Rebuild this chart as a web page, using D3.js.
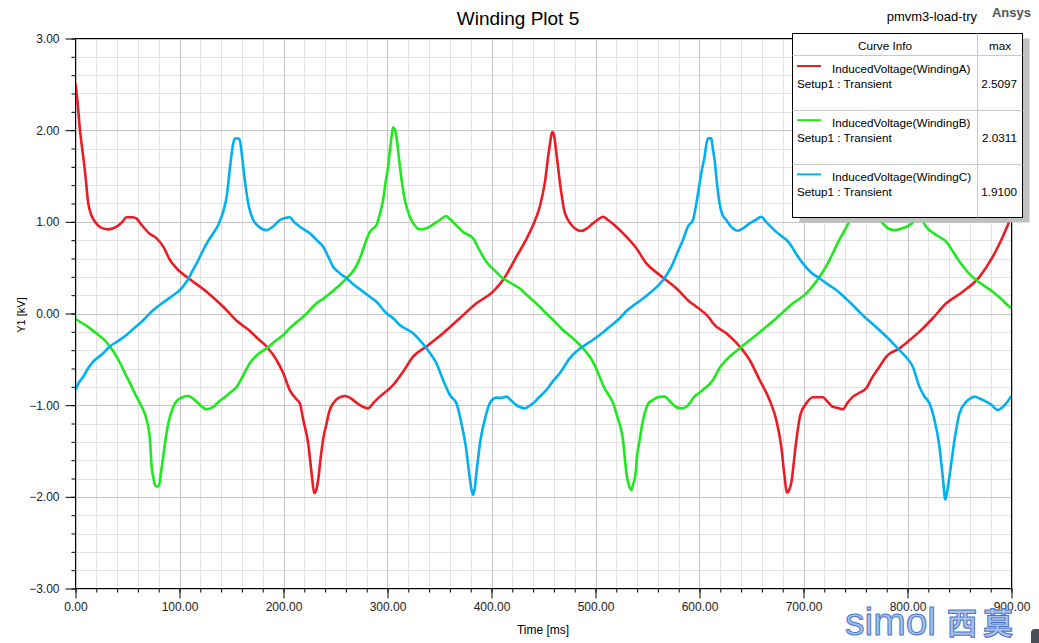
<!DOCTYPE html>
<html>
<head>
<meta charset="utf-8">
<script src="https://cdn.jsdelivr.net/npm/d3@7"></script>
<style>
  html, body { margin: 0; padding: 0; background: #fff; }
  svg { display: block; font-family: "Liberation Sans", Arial, sans-serif; }
</style>
</head>
<body>
<svg id="chart" width="1039" height="643"></svg>
<script>
// ---------------- data ----------------
const chartTitle = "Winding Plot 5";
const projectName = "pmvm3-load-try";
const xLabel = "Time [ms]";
const yLabel = "Y1 [kV]";
const xMajorTicks = [0, 100, 200, 300, 400, 500, 600, 700, 800, 900];
const yMajorTicks = [-3, -2, -1, 0, 1, 2, 3];
const seriesNames = ["InducedVoltage(WindingA)", "InducedVoltage(WindingB)", "InducedVoltage(WindingC)"];
const seriesSetup = ["Setup1 : Transient", "Setup1 : Transient", "Setup1 : Transient"];
const seriesMax = ["2.5097", "2.0311", "1.9100"];
const seriesColors = ["#ed1c24", "#1ee81e", "#00b0f0"];

// [time ms, voltage kV]
const windingA = [[0,2.51],[2,2.3],[4.3,2.0],[7,1.75],[9,1.565],[12.3,1.2],[15,1.08],[18.7,1.0],[24,0.94],[31.5,0.918],[39.6,0.947],[45,1.0],[49,1.05],[55,1.05],[58.8,1.035],[63.6,0.965],[71.6,0.867],[78,0.82],[84.4,0.73],[90.8,0.584],[97.2,0.493],[110,0.373],[126,0.238],[142,0.074],[155,-0.08],[167.7,-0.19],[175,-0.27],[183.7,-0.36],[193.3,-0.507],[199.7,-0.65],[206,-0.835],[212,-0.93],[215.7,-0.98],[219,-1.16],[223.7,-1.416],[227,-1.743],[229.5,-1.96],[231,-1.94],[233.3,-1.816],[236,-1.55],[238,-1.38],[241.4,-1.2],[244,-1.07],[247.7,-0.98],[253,-0.92],[259,-0.9],[267,-0.944],[273.4,-1.0],[281.4,-1.035],[286,-0.98],[292.6,-0.907],[305.4,-0.78],[315,-0.635],[324.6,-0.47],[337.5,-0.36],[353.4,-0.216],[369.5,-0.052],[385.5,0.111],[401.5,0.238],[411,0.365],[424,0.62],[433,0.8],[440,0.965],[446.4,1.165],[451.2,1.42],[455.3,1.78],[458.6,1.98],[460,1.95],[462.4,1.75],[465,1.5],[467.2,1.31],[470,1.12],[473.6,1.02],[479,0.94],[486.4,0.9],[492,0.93],[497.6,0.984],[503,1.03],[507.2,1.056],[512,1.02],[520,0.947],[529.7,0.838],[539.3,0.711],[548.9,0.547],[561.7,0.42],[577.7,0.275],[590.5,0.129],[597,0.074],[609.7,-0.052],[613,-0.107],[625.8,-0.216],[638.6,-0.36],[648.2,-0.507],[657.8,-0.725],[667.4,-0.944],[673.8,-1.16],[678.6,-1.45],[681.8,-1.78],[684,-1.955],[686,-1.93],[688.2,-1.85],[692.4,-1.45],[696.9,-1.107],[702.7,-0.98],[709,-0.914],[718.6,-0.914],[723,-0.96],[728.2,-1.017],[733,-1.03],[737.9,-1.045],[742,-0.98],[747.5,-0.907],[753,-0.87],[760.3,-0.816],[766,-0.7],[773.1,-0.58],[779.6,-0.47],[792.3,-0.38],[800,-0.31],[811.5,-0.198],[824.3,-0.052],[837.2,0.111],[853.2,0.238],[869.2,0.40],[882,0.62],[891.6,0.838],[900,1.06]];

const windingB = [[0,-0.06],[10,-0.13],[20,-0.216],[27,-0.28],[33,-0.36],[38,-0.44],[42.8,-0.54],[47,-0.64],[52.4,-0.76],[57,-0.87],[62,-0.98],[65,-1.05],[68.4,-1.16],[71.6,-1.38],[73.2,-1.67],[75,-1.8],[76.4,-1.87],[78.5,-1.89],[80.5,-1.87],[82,-1.75],[84.4,-1.56],[86.5,-1.38],[89.2,-1.2],[94,-1.017],[100.4,-0.925],[108.4,-0.9],[116.5,-0.962],[122,-1.02],[126,-1.045],[132.5,-1.017],[137,-0.97],[142,-0.925],[148,-0.87],[155,-0.8],[161,-0.68],[167.7,-0.54],[175,-0.45],[183.7,-0.38],[191,-0.31],[199.7,-0.235],[206,-0.16],[212,-0.1],[219,-0.035],[231.8,0.111],[238,0.16],[250,0.27],[260.6,0.384],[268,0.48],[273.4,0.6],[279,0.78],[283,0.89],[289.4,0.965],[293,1.1],[295.8,1.24],[298,1.42],[300.6,1.6],[302.5,1.8],[303.9,1.93],[305.4,2.03],[307,2.01],[308,1.966],[310,1.8],[311.2,1.675],[314,1.42],[316.6,1.24],[321.5,1.056],[325,0.98],[331,0.918],[336,0.925],[340.6,0.947],[345,0.98],[350.2,1.02],[356.7,1.064],[359,1.04],[363,1.0],[368,0.94],[372.7,0.89],[382.3,0.82],[388,0.7],[395,0.565],[403,0.47],[411,0.384],[419,0.33],[427,0.275],[435,0.19],[443,0.111],[450,0.03],[457.6,-0.052],[468.8,-0.18],[481.6,-0.307],[488,-0.38],[494.4,-0.47],[499,-0.56],[504,-0.69],[508,-0.8],[513.6,-0.907],[517,-0.98],[520,-1.09],[523,-1.2],[526.4,-1.38],[528,-1.55],[529.7,-1.74],[532,-1.87],[534.5,-1.925],[536,-1.87],[538.6,-1.74],[540,-1.55],[542.5,-1.38],[545,-1.2],[547.3,-1.09],[551,-0.98],[555.3,-0.944],[561,-0.91],[566.5,-0.907],[571,-0.95],[576.1,-1.01],[582.5,-1.035],[587.3,-1.017],[590.5,-0.98],[593.7,-0.925],[603.3,-0.834],[613,-0.725],[619,-0.6],[625.8,-0.507],[638.6,-0.38],[654.6,-0.235],[673.8,-0.052],[689.8,0.111],[702.7,0.22],[715.5,0.40],[722,0.52],[728.2,0.657],[733,0.77],[737.9,0.875],[742,0.96],[746,1.056],[749,1.2],[752,1.42],[754.5,1.65],[756.5,1.85],[758,1.96],[759.5,2.0],[761,1.96],[763,1.8],[765,1.56],[767.5,1.3],[770,1.12],[773,1.02],[776.3,0.984],[781,0.93],[787.5,0.91],[795,0.93],[802,0.965],[808,1.02],[811.5,1.05],[814,1.02],[818,0.947],[827.6,0.856],[837.2,0.783],[844,0.67],[851.2,0.547],[858,0.45],[866,0.365],[874,0.3],[882,0.238],[890,0.16],[898,0.074],[900,0.06]];

const windingC = [[0,-0.834],[3,-0.76],[7.5,-0.69],[12,-0.6],[17,-0.525],[25,-0.45],[33,-0.36],[41,-0.3],[49,-0.235],[55.5,-0.17],[62,-0.107],[68,-0.04],[74.8,0.038],[81,0.093],[87.6,0.147],[94,0.2],[100.4,0.256],[107,0.35],[113,0.475],[118,0.58],[122.8,0.693],[127,0.78],[132.5,0.875],[137,0.96],[140.5,1.056],[143,1.15],[145.3,1.274],[147,1.43],[149,1.638],[151.7,1.857],[153.5,1.91],[155,1.911],[156.5,1.91],[158,1.89],[159.5,1.78],[161.3,1.6],[164.5,1.31],[167,1.15],[170.9,1.02],[176,0.95],[183.7,0.91],[190,0.95],[196.5,1.02],[201,1.04],[206,1.05],[210,1.0],[215.7,0.947],[225.3,0.875],[232,0.8],[238,0.73],[243,0.62],[247.7,0.51],[254,0.44],[260.6,0.384],[267,0.32],[273.4,0.265],[283,0.183],[289.4,0.129],[299,0.002],[305.4,-0.052],[311.8,-0.125],[324.6,-0.216],[331,-0.29],[337.5,-0.38],[342,-0.45],[347,-0.543],[353.4,-0.725],[360,-0.89],[366.3,-0.98],[371.1,-1.2],[375.3,-1.45],[378.5,-1.74],[380.5,-1.9],[382.3,-1.98],[384,-1.9],[385.5,-1.74],[389.4,-1.38],[393.5,-1.16],[398.3,-0.98],[404.7,-0.918],[409,-0.92],[414.4,-0.907],[419,-0.95],[424,-1.0],[432,-1.035],[436,-1.01],[440,-0.98],[446,-0.91],[452.8,-0.834],[459,-0.74],[465.6,-0.652],[475.2,-0.489],[481,-0.42],[488,-0.36],[496,-0.3],[504,-0.235],[513,-0.15],[523.3,-0.052],[530,0.03],[539.3,0.111],[552,0.22],[564.9,0.365],[570,0.45],[574.5,0.547],[579,0.67],[584,0.80],[589,0.95],[593.7,1.02],[597,1.2],[600.1,1.42],[602.5,1.58],[604.9,1.71],[606.5,1.84],[608.1,1.91],[611.4,1.91],[612.5,1.82],[614.5,1.675],[617,1.4],[619.3,1.2],[622,1.08],[625.8,1.02],[631,0.94],[637,0.903],[642,0.93],[648.2,0.984],[654,1.02],[659.4,1.056],[664,1.0],[673.8,0.89],[686.6,0.765],[693,0.65],[699.4,0.547],[707,0.45],[715.4,0.384],[723,0.32],[731.5,0.256],[741.1,0.16],[747.5,0.09],[757.1,-0.02],[768,-0.13],[776.3,-0.216],[784,-0.3],[792.3,-0.40],[799,-0.48],[805.1,-0.58],[811.5,-0.80],[816,-0.9],[821.1,-0.98],[825.9,-1.16],[830.7,-1.45],[833.9,-1.78],[836.4,-2.03],[838,-1.95],[840.3,-1.78],[845.2,-1.38],[850,-1.09],[856.5,-0.962],[860,-0.93],[864.4,-0.907],[870,-0.93],[875.6,-0.962],[881,-1.0],[886.8,-1.053],[893.4,-1.0],[900,-0.9]];

const seriesData = [windingA, windingB, windingC];

// ---------------- layout ----------------
const svg = d3.select("#chart");
const L = 75.5, R = 1011.5, T = 38.5, B = 588.5;
const x = d3.scaleLinear().domain([0, 900]).range([L, R]);
const y = d3.scaleLinear().domain([-3, 3]).range([B, T]);

// grid
const xMinor = d3.range(0, 901, 20);
const yMinor = d3.range(-30, 31, 2).map(d => d / 10);
const grid = svg.append("g");
grid.selectAll(".gxm").data(xMinor.filter(d => d % 100 !== 0)).join("line")
  .attr("x1", d => Math.round(x(d)) + 0.5).attr("x2", d => Math.round(x(d)) + 0.5)
  .attr("y1", T).attr("y2", B).attr("stroke", "#e2e2e2").attr("stroke-width", 1);
grid.selectAll(".gym").data(yMinor.filter(d => Math.abs(d - Math.round(d)) > 1e-6)).join("line")
  .attr("y1", d => Math.round(y(d)) + 0.5).attr("y2", d => Math.round(y(d)) + 0.5)
  .attr("x1", L).attr("x2", R).attr("stroke", "#e2e2e2").attr("stroke-width", 1);
grid.selectAll(".gxM").data(xMajorTicks).join("line")
  .attr("x1", d => Math.round(x(d)) + 0.5).attr("x2", d => Math.round(x(d)) + 0.5)
  .attr("y1", T).attr("y2", B).attr("stroke", "#c4c4c4").attr("stroke-width", 1);
grid.selectAll(".gyM").data(yMajorTicks).join("line")
  .attr("y1", d => Math.round(y(d)) + 0.5).attr("y2", d => Math.round(y(d)) + 0.5)
  .attr("x1", L).attr("x2", R).attr("stroke", "#c4c4c4").attr("stroke-width", 1);

// curves
svg.append("clipPath").attr("id", "clip").append("rect")
  .attr("x", L).attr("y", T).attr("width", R - L).attr("height", B - T);
const line = d3.line().x(d => x(d[0])).y(d => y(d[1])).curve(d3.curveMonotoneX);
svg.append("g").attr("clip-path", "url(#clip)")
  .selectAll("path").data(seriesData).join("path")
  .attr("d", line).attr("fill", "none")
  .attr("stroke", (d, i) => seriesColors[i]).attr("stroke-width", 2.6)
  .attr("stroke-linejoin", "round");

// axes
const fmt = d3.format(".2f");
const yAxis = svg.append("g").attr("transform", `translate(${L},0)`)
  .call(d3.axisLeft(y).tickValues(yMajorTicks).tickFormat(fmt).tickSize(10).tickPadding(6));
const yAxisMinor = svg.append("g").attr("transform", `translate(${L},0)`)
  .call(d3.axisLeft(y).tickValues(yMinor).tickFormat("").tickSize(4));
const xAxis = svg.append("g").attr("transform", `translate(0,${B})`)
  .call(d3.axisBottom(x).tickValues(xMajorTicks).tickFormat(fmt).tickSize(10).tickPadding(4));
const xAxisMinor = svg.append("g").attr("transform", `translate(0,${B})`)
  .call(d3.axisBottom(x).tickValues(xMinor).tickFormat("").tickSize(4));
[yAxis, yAxisMinor, xAxis, xAxisMinor].forEach(g => {
  g.select(".domain").remove();
  g.selectAll(".tick line").attr("stroke", "#000");
  g.selectAll("text").attr("font-size", 12).attr("fill", "#222")
    .attr("font-family", "'Liberation Sans', Arial, sans-serif");
});

// frame
svg.append("rect").attr("x", L).attr("y", T).attr("width", R - L).attr("height", B - T)
  .attr("fill", "none").attr("stroke", "#000").attr("stroke-width", 1);

// titles
svg.append("text").attr("x", 518).attr("y", 25).attr("text-anchor", "middle")
  .attr("font-size", 19).attr("fill", "#000").text(chartTitle);
svg.append("text").attr("x", 977).attr("y", 21).attr("text-anchor", "end")
  .attr("font-size", 13).attr("fill", "#000").text(projectName);
svg.append("text").attr("x", 1031).attr("y", 17).attr("text-anchor", "end")
  .attr("font-size", 13).attr("font-weight", "bold").attr("fill", "#555").text("Ansys");
svg.append("text").attr("x", 543).attr("y", 634).attr("text-anchor", "middle")
  .attr("font-size", 12).attr("fill", "#000").text(xLabel);
svg.append("text").attr("transform", "translate(25,315) rotate(-90)").attr("text-anchor", "middle")
  .attr("font-size", 11).attr("fill", "#000").text(yLabel);

// legend
const lg = svg.append("g");
const LX = 792.5, LY = 33.5, LW = 230, LH = 184, COL = 977.5, HDR = 55.5, ROWH = 54.2;
const LFS = 11.7;
lg.append("rect").attr("x", LX + 7).attr("y", LY + 5).attr("width", LW).attr("height", LH)
  .attr("fill", "#c0c0c0");
lg.append("rect").attr("x", LX).attr("y", LY).attr("width", LW).attr("height", LH)
  .attr("fill", "#fff").attr("stroke", "#000").attr("stroke-width", 1);
lg.append("line").attr("x1", LX).attr("x2", LX + LW).attr("y1", HDR).attr("y2", HDR)
  .attr("stroke", "#c8c8c8");
lg.append("line").attr("x1", COL).attr("x2", COL).attr("y1", LY).attr("y2", LY + LH)
  .attr("stroke", "#c8c8c8");
lg.selectAll(".rowsep").data([1, 2]).join("line")
  .attr("x1", LX).attr("x2", LX + LW)
  .attr("y1", d => Math.round(HDR + d * ROWH) + 0.5).attr("y2", d => Math.round(HDR + d * ROWH) + 0.5)
  .attr("stroke", "#c8c8c8");
lg.append("text").attr("x", 885).attr("y", 49.5).attr("text-anchor", "middle")
  .attr("font-size", LFS).text("Curve Info");
lg.append("text").attr("x", 1000).attr("y", 49.5).attr("text-anchor", "middle")
  .attr("font-size", LFS).text("max");
const rows = lg.selectAll(".row").data(seriesNames).join("g")
  .attr("transform", (d, i) => `translate(0,${HDR + i * ROWH})`);
rows.append("line").attr("x1", 797).attr("x2", 821).attr("y1", 10.5).attr("y2", 10.5)
  .attr("stroke", (d, i) => seriesColors[i]).attr("stroke-width", 2);
rows.append("text").attr("x", 832).attr("y", 17).attr("font-size", LFS).text(d => d);
rows.append("text").attr("x", 797).attr("y", 32).attr("font-size", LFS).text((d, i) => seriesSetup[i]);
rows.append("text").attr("x", 1017).attr("y", 32).attr("text-anchor", "end")
  .attr("font-size", LFS).text((d, i) => seriesMax[i]);

// watermark
svg.append("text").attr("x", 845).attr("y", 635).attr("font-size", 39)
  .attr("font-family", "'Liberation Sans', Arial, sans-serif")
  .attr("fill", "#a8c0ea").attr("stroke", "#4a76c8").attr("stroke-width", 1)
  .text("simol");
svg.append("text").attr("x", 947).attr("y", 634).attr("font-size", 30)
  .attr("font-family", "'Noto Sans CJK SC', sans-serif").attr("font-weight", "bold")
  .attr("letter-spacing", 6)
  .attr("fill", "#a8c0ea").attr("stroke", "#4a76c8").attr("stroke-width", 1)
  .text("西莫");
svg.append("rect").attr("x", 1031).attr("y", 629).attr("width", 14).attr("height", 20).attr("rx", 4)
  .attr("fill", "#4a4f57");
</script>
</body>
</html>
